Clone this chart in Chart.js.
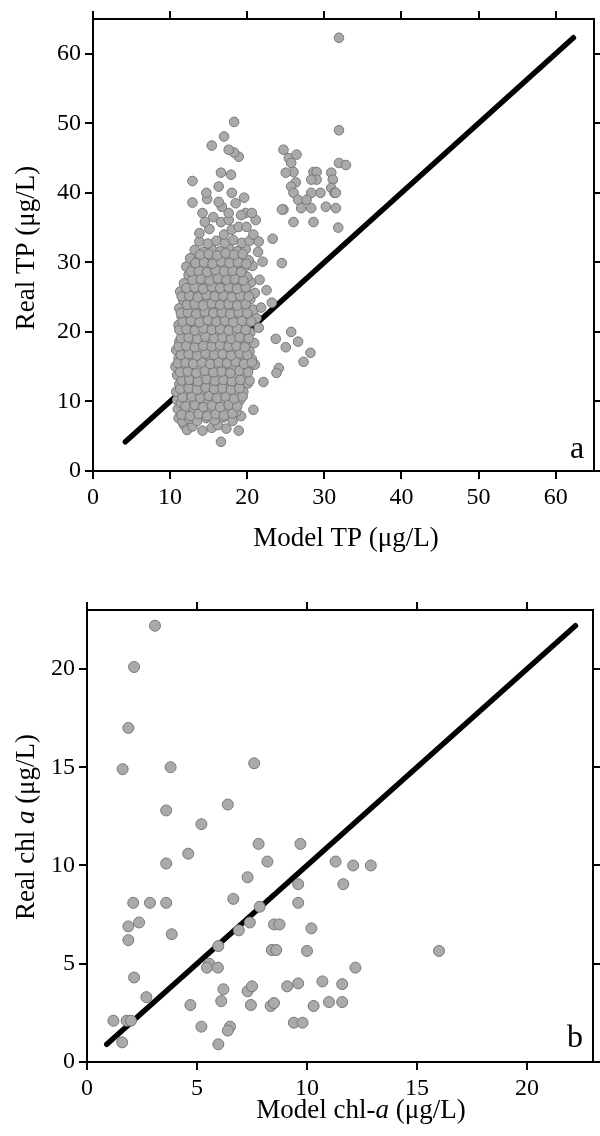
<!DOCTYPE html>
<html>
<head>
<meta charset="utf-8">
<script src="https://cdn.jsdelivr.net/npm/chart.js@4.4.1/dist/chart.umd.min.js"></script>
<style>
  html, body { margin: 0; padding: 0; background: #fff; }
  #wrapA { position: absolute; left: 0; top: 0; width: 600px; height: 580px; }
  #wrapB { position: absolute; left: 0; top: 580px; width: 600px; height: 556px; }
</style>
</head>
<body>
<div id="wrapA"><canvas id="chartA" width="600" height="580"></canvas></div>
<div id="wrapB"><canvas id="chartB" width="600" height="556"></canvas></div>
<script>
// ---------- Data: panel a (TP, µg/L) : [model, real] ----------
const tpPoints = [
  [16.6,4.2],[11.8,6.6],[12.2,5.9],[12.9,6.4],[14.2,5.8],[15.4,6.2],[16.2,6.6],[17.3,6.1],[18.9,5.8],
  [11.1,7.6],[11.6,7.1],[12.5,7.5],[13.5,7.2],[14.7,7.6],[15.8,7.3],[16.9,7.7],[18.1,7.2],[19.2,7.9],
  [11.0,8.9],[11.9,8.5],[13.0,8.8],[14.1,8.4],[15.2,8.9],[16.4,8.6],[17.5,8.9],[18.6,8.5],[20.8,8.8],
  [10.9,10.2],[11.4,9.8],[12.4,10.1],[13.5,9.7],[14.6,10.2],[15.7,9.9],[16.8,10.3],[17.9,9.8],[19.0,10.1],
  [10.8,11.4],[11.8,11.1],[12.9,11.4],[14.0,11.0],[15.1,11.3],[16.2,11.0],[17.3,11.5],[18.4,11.1],[19.5,11.4],
  [11.2,12.5],[12.4,12.2],[13.5,12.6],[14.6,12.3],[15.7,12.7],[16.8,12.3],[17.9,12.6],[19.0,12.2],[20.1,12.6],
  [10.9,13.8],[11.9,13.5],[13.0,13.8],[14.1,13.4],[15.2,13.8],[16.3,13.5],[17.4,13.9],[18.5,13.5],[19.6,13.8],[22.1,12.8],
  [10.7,15.0],[11.5,14.7],[12.5,15.1],[13.6,14.8],[14.7,15.1],[15.8,14.7],[16.9,15.1],[18.0,14.8],[19.1,15.2],[20.2,14.8],[21.0,15.3],
  [11.1,16.2],[12.0,16.0],[13.1,16.3],[14.2,15.9],[15.3,16.3],[16.4,16.0],[17.5,16.4],[18.6,16.0],[19.7,16.3],[20.6,16.1],
  [10.8,17.4],[11.6,17.2],[12.7,17.5],[13.8,17.1],[14.9,17.5],[16.0,17.2],[17.1,17.6],[18.1,17.2],[19.2,17.5],[20.3,17.2],
  [11.2,18.6],[12.2,18.3],[13.3,18.7],[14.4,18.4],[15.5,18.8],[16.6,18.4],[17.7,18.7],[18.8,18.3],[19.9,18.7],[20.9,18.4],
  [11.6,19.8],[12.7,19.5],[13.8,19.9],[14.9,19.6],[16.0,20.0],[17.1,19.6],[18.2,19.9],[19.3,19.5],[20.4,19.9],
  [11.1,21.0],[12.2,20.8],[13.3,21.1],[14.4,20.7],[15.5,21.1],[16.6,20.8],[17.7,21.2],[18.8,20.8],[19.9,21.1],[21.5,20.6],
  [11.5,22.2],[12.6,22.0],[13.7,22.3],[14.8,21.9],[15.9,22.3],[17.0,22.0],[18.1,22.4],[19.2,22.0],[20.3,22.3],[21.2,22.0],
  [11.2,23.4],[12.1,23.2],[13.2,23.5],[14.3,23.1],[15.4,23.5],[16.5,23.2],[17.6,23.6],[18.7,23.2],[19.8,23.5],[20.8,23.2],[21.8,23.5],
  [11.7,24.6],[12.7,24.3],[13.8,24.7],[14.9,24.4],[16.0,24.8],[17.1,24.4],[18.2,24.7],[19.3,24.3],[20.4,24.7],[23.2,24.2],
  [11.3,25.8],[12.3,25.6],[13.3,25.9],[14.4,25.5],[15.5,25.9],[16.6,25.6],[17.7,26.0],[18.8,25.6],[19.9,25.9],[21.0,25.6],
  [11.8,27.0],[12.8,26.7],[13.9,27.1],[15.0,26.8],[16.1,27.2],[17.2,26.8],[18.3,27.1],[19.4,26.7],[20.5,27.1],[21.6,27.5],[22.5,26.0],
  [12.4,28.2],[13.4,27.9],[14.5,28.3],[15.6,28.0],[16.7,28.4],[17.8,28.0],[18.9,28.3],[20.0,27.9],
  [12.1,29.4],[13.0,29.2],[14.1,29.5],[15.2,29.1],[16.3,29.5],[17.4,29.2],[18.5,29.6],[19.6,29.2],[20.7,29.5],[22.0,30.1],
  [12.6,30.6],[13.6,30.3],[14.7,30.7],[15.8,30.4],[16.9,30.8],[18.0,30.4],[19.1,30.7],[20.2,30.3],[21.4,31.5],[24.5,29.9],
  [13.2,31.8],[14.3,31.5],[15.4,31.9],[16.5,31.6],[17.6,32.0],[18.7,31.6],[19.8,31.9],
  [13.8,33.0],[14.9,32.7],[16.0,33.1],[17.1,32.8],[18.2,33.2],[19.3,32.8],[20.3,33.1],[21.5,33.0],[23.3,33.4],
  [13.8,34.2],[15.1,34.8],[17.0,34.0],[18.0,34.7],[18.9,35.1],[19.9,35.1],[20.8,34.0],[14.5,35.8],[15.6,36.5],
  [16.6,35.8],[17.6,36.1],[21.1,36.1],[14.2,37.1],[17.6,37.1],[19.8,37.1],[20.6,37.1],[19.2,36.8],[16.7,38.0],
  [12.9,38.6],[16.3,38.7],[18.5,38.5],[14.8,39.1],[19.6,39.3],[14.7,40.0],[18.0,40.0],[16.3,40.9],[12.9,41.7],
  [16.6,42.9],[17.9,42.6],[18.9,45.2],[18.3,45.8],[17.6,46.2],[15.4,46.8],[17.0,48.1],[18.3,50.2],
  [23.7,19.0],[24.1,14.8],[23.8,14.1],[25.0,17.8],[25.7,20.0],[26.6,18.6],[28.2,17.0],[27.3,15.7],
  [24.7,46.2],[25.4,45.0],[25.7,44.3],[26.4,45.5],[26.0,43.0],[25.0,42.9],[26.3,41.5],[25.7,40.9],[26.0,40.0],
  [26.6,39.0],[24.7,37.6],[24.5,37.6],[26.0,35.8],
  [31.9,62.3],[31.9,49.0],[31.9,44.3],[32.8,44.0],[28.6,43.0],[29.0,43.0],[29.0,41.9],[28.3,41.9],[30.9,42.9],
  [31.1,41.9],[30.9,40.7],[31.3,40.0],[31.5,40.0],[29.5,40.0],[28.3,40.0],[27.7,39.0],[27.0,37.8],[28.3,37.8],
  [30.2,38.0],[31.5,37.8],[28.6,35.8],[31.8,35.0],
  // interleaved core of the dense cluster
  [11.5,8.1],[12.6,7.9],[13.7,8.2],[14.8,7.9],[15.9,8.2],[17.0,8.0],[18.1,8.3],
  [12.0,9.3],[13.2,9.5],[14.3,9.2],[15.4,9.4],[16.5,9.2],[17.6,9.5],[18.7,9.3],
  [11.6,10.6],[12.8,10.7],[13.9,10.5],[15.0,10.8],[16.1,10.5],[17.2,10.7],[18.3,10.4],[19.4,10.7],
  [11.3,11.8],[12.4,11.9],[13.5,11.7],[14.6,12.0],[15.7,11.8],[16.8,11.9],[17.9,11.7],[19.0,11.9],
  [11.5,13.0],[12.5,13.1],[13.6,12.9],[14.7,13.2],[15.8,13.0],[16.9,13.1],[18.0,12.9],[19.1,13.1],[20.3,13.0],
  [11.3,14.2],[12.3,14.3],[13.4,14.1],[14.5,14.4],[15.6,14.2],[16.7,14.3],[17.8,14.1],[19.0,14.4],[20.1,14.2],
  [11.0,15.5],[12.0,15.6],[13.0,15.4],[14.1,15.6],[15.2,15.4],[16.3,15.6],[17.4,15.5],[18.5,15.7],[19.6,15.4],[20.6,15.6],
  [11.4,16.7],[12.4,16.8],[13.5,16.6],[14.6,16.9],[15.7,16.7],[16.8,16.8],[17.9,16.6],[19.0,16.9],[20.0,16.7],
  [11.1,17.9],[12.1,18.0],[13.2,17.8],[14.3,18.0],[15.4,17.9],[16.5,18.1],[17.6,17.9],[18.6,18.0],[19.7,17.8],
  [11.4,19.1],[12.4,19.2],[13.5,19.0],[14.6,19.3],[15.7,19.1],[16.8,19.2],[17.9,19.0],[19.0,19.2],[20.2,19.1],
  [11.2,20.3],[12.1,20.4],[13.2,20.2],[14.3,20.5],[15.4,20.3],[16.5,20.4],[17.6,20.2],[18.7,20.5],[19.8,20.3],
  [11.6,21.5],[12.7,21.6],[13.8,21.4],[14.9,21.7],[16.0,21.5],[17.1,21.6],[18.2,21.4],[19.3,21.6],[20.5,21.5],
  [11.4,22.7],[12.3,22.8],[13.4,22.6],[14.5,22.9],[15.6,22.7],[16.7,22.8],[17.8,22.6],[18.9,22.8],[20.0,22.7],
  [12.2,23.9],[13.2,24.0],[14.3,23.8],[15.4,24.1],[16.5,23.9],[17.6,24.0],[18.7,23.8],[19.8,24.0],
  [11.5,25.1],[12.5,25.2],[13.6,25.0],[14.7,25.3],[15.8,25.1],[16.9,25.2],[18.0,25.0],[19.1,25.2],[20.2,25.1],
  [12.1,26.3],[13.2,26.4],[14.3,26.2],[15.4,26.5],[16.5,26.3],[17.6,26.4],[18.7,26.2],[19.8,26.4],
  [12.9,27.5],[14.0,27.6],[15.1,27.4],[16.2,27.7],[17.3,27.5],[18.4,27.6],[19.5,27.4],
  [12.7,28.7],[13.7,28.8],[14.8,28.6],[15.9,28.9],[17.0,28.7],[18.1,28.8],[19.2,28.6],
  [13.3,29.9],[14.4,30.0],[15.5,29.8],[16.6,30.1],[17.7,29.9],[18.8,30.0],[19.9,29.8],
  [13.9,31.1],[15.0,31.2],[16.1,31.0],[17.2,31.3],[18.3,31.1],[19.4,31.2]
];
const tpLine = [4.2, 62.3];
const tpTicks = [0, 10, 20, 30, 40, 50, 60];
const tpRange = [0, 65];

// ---------- Data: panel b (chl-a, µg/L) : [model, real] ----------
const chlPoints = [
  [3.09,22.2],[2.14,20.1],[1.88,17.0],[1.62,14.9],[3.8,15.0],[7.6,15.2],[3.6,12.8],[6.4,13.1],[5.2,12.1],
  [7.8,11.1],[9.7,11.1],[4.6,10.6],[3.6,10.1],[8.2,10.2],[11.3,10.2],[12.1,10.0],[12.9,10.0],
  [2.1,8.1],[2.86,8.1],[3.6,8.1],[1.88,6.9],[2.37,7.1],[1.88,6.2],[3.85,6.5],[7.3,9.4],[6.65,8.3],[7.85,7.9],
  [6.9,6.7],[7.4,7.1],[5.97,5.9],[8.5,7.0],[8.75,7.0],[8.4,5.7],[8.6,5.7],[9.6,9.05],[9.6,8.1],[11.65,9.05],
  [10.2,6.8],[10.0,5.65],[16.0,5.65],[5.55,5.0],[5.45,4.8],[5.95,4.8],[2.14,4.3],[2.7,3.3],[6.2,3.7],[6.1,3.1],
  [7.3,3.6],[7.5,3.85],[7.45,2.9],[4.7,2.9],[8.35,2.85],[8.5,3.0],[9.1,3.85],[9.6,4.0],[10.7,4.1],[11.6,3.96],
  [12.2,4.8],[10.3,2.85],[11.0,3.05],[11.6,3.05],[9.4,2.0],[9.8,2.0],[5.2,1.8],[6.5,1.8],[6.4,1.6],[5.97,0.9],
  [1.2,2.1],[1.8,2.1],[2.0,2.1],[1.6,1.0]
];
const chlLine = [0.9, 22.2];
const chlTicks = [0, 5, 10, 15, 20];
const chlRange = [0, 23];

// ---------- Text ----------
const titlesA = {
  x: [["Model TP (μg/L)", false]],
  y: [["Real TP (μg/L)", false]],
  panel: "a"
};
const titlesB = {
  x: [["Model chl-", false], ["a", true], [" (μg/L)", false]],
  y: [["Real chl ", false], ["a", true], [" (μg/L)", false]],
  panel: "b"
};

const FONT = '"Liberation Serif", "Times New Roman", serif';

function drawRich(ctx, segs, cx, cy, rot, size) {
  ctx.save();
  ctx.translate(cx, cy);
  ctx.rotate(rot);
  let total = 0;
  const widths = segs.map(([t, it]) => {
    ctx.font = (it ? 'italic ' : '') + size + 'px ' + FONT;
    const w = ctx.measureText(t).width; total += w; return w;
  });
  let x = -total / 2;
  segs.forEach(([t, it], i) => {
    ctx.font = (it ? 'italic ' : '') + size + 'px ' + FONT;
    ctx.fillText(t, x, 0);
    x += widths[i];
  });
  ctx.restore();
}

const textPlugin = {
  id: 'richTexts',
  afterDraw(chart, args, o) {
    const ctx = chart.ctx;
    ctx.save();
    ctx.fillStyle = '#000';
    ctx.textBaseline = 'alphabetic';
    ctx.textAlign = 'left';
    drawRich(ctx, o.titles.x, o.xTitle[0], o.xTitle[1], 0, o.titleSize);
    drawRich(ctx, o.titles.y, o.yTitle[0], o.yTitle[1], -Math.PI / 2, o.titleSize);
    ctx.font = o.panelSize + 'px ' + FONT;
    ctx.fillText(o.titles.panel, o.panel[0], o.panel[1]);
    ctx.restore();
  }
};

function axis(pos, range, ticksArr, size, labels, tickLen) {
  const horiz = pos === 'top' || pos === 'bottom';
  return {
    type: 'linear', position: pos, axis: horiz ? 'x' : 'y',
    min: range[0], max: range[1],
    afterBuildTicks: s => { s.ticks = ticksArr.map(v => ({ value: v })); },
    afterFit: s => { if (horiz) s.height = size; else s.width = size; },
    ticks: { display: labels, color: '#000', font: { family: FONT, size: 24 }, padding: 4, maxRotation: 0, autoSkip: false },
    grid: { display: true, drawOnChartArea: false, drawTicks: true, tickLength: tickLen, color: '#000', lineWidth: 2 },
    border: { display: true, color: '#000', width: 2 }
  };
}

function makeChart(id, points, line, ticksArr, range, sizes, radius, titles, textPos) {
  return new Chart(document.getElementById(id), {
    type: 'scatter',
    data: {
      datasets: [
        {
          data: points.map(p => ({ x: p[0], y: p[1] })),
          backgroundColor: 'rgb(170,170,170)',
          borderColor: 'rgb(120,120,120)',
          borderWidth: 1,
          pointRadius: radius,
          order: 0
        },
        {
          data: line.map(v => ({ x: v, y: v })),
          showLine: true,
          borderColor: '#000',
          borderWidth: 5.5,
          borderCapStyle: 'round',
          pointRadius: 0,
          order: 1
        }
      ]
    },
    options: {
      responsive: false,
      animation: false,
      devicePixelRatio: 1,
      layout: { padding: 0 },
      plugins: { legend: { display: false }, tooltip: { enabled: false }, richTexts: Object.assign({ titles }, textPos) },
      scales: {
        x: axis('bottom', range, ticksArr, sizes.bottom, true, sizes.tick),
        x2: axis('top', range, ticksArr, sizes.top, false, sizes.tick),
        y: axis('left', range, ticksArr, sizes.left, true, sizes.tick),
        y2: axis('right', range, ticksArr, sizes.right, false, sizes.tick)
      }
    },
    plugins: [textPlugin]
  });
}

makeChart('chartA', tpPoints, tpLine, tpTicks, tpRange,
  { left: 93, right: 2, top: 19, bottom: 109, tick: 8 }, 4.8, titlesA,
  { xTitle: [346, 546], yTitle: [34, 248], panel: [570, 458], titleSize: 27, panelSize: 32 });

makeChart('chartB', chlPoints, chlLine, chlTicks, chlRange,
  { left: 87, right: 7, top: 30, bottom: 74, tick: 8 }, 5.5, titlesB,
  { xTitle: [361, 538], yTitle: [34, 247], panel: [567, 467], titleSize: 27, panelSize: 32 });
</script>
</body>
</html>
